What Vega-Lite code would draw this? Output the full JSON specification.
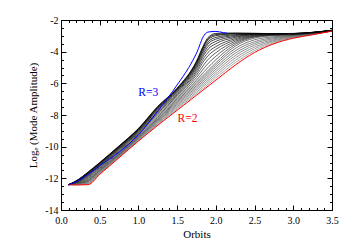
{
  "$schema": "https://vega.github.io/schema/vega-lite/v6.json",
  "width": 271,
  "height": 190,
  "autosize": {"type": "none"},
  "padding": {"left": 61, "top": 20, "right": 18, "bottom": 40},
  "background": "white",
  "config": {
    "view": {"stroke": "black", "strokeWidth": 1},
    "axis": {
      "domain": false, "grid": false, "tickColor": "black", "tickWidth": 1,
      "labelFont": "Liberation Serif", "labelFontSize": 10, "labelColor": "black",
      "titleFont": "Liberation Serif", "titleFontSize": 11, "titleFontWeight": "normal", "titleColor": "black",
      "labelFlush": false, "labelOverlap": false
    }
  },
  "data": {"values": [
    {"R":2,"x":0.1,"y":-12.4},{"R":2,"x":0.2,"y":-12.42},{"R":2,"x":0.35,"y":-12.4},{"R":2,"x":0.5,"y":-11.75},{"R":2,"x":0.75,"y":-10.7},{"R":2,"x":1.0,"y":-9.65},{"R":2,"x":1.25,"y":-8.65},{"R":2,"x":1.5,"y":-7.7},{"R":2,"x":1.75,"y":-6.75},{"R":2,"x":2.0,"y":-5.8},{"R":2,"x":2.25,"y":-4.85},{"R":2,"x":2.5,"y":-4.05},{"R":2,"x":2.75,"y":-3.5},{"R":2,"x":3.0,"y":-3.15},{"R":2,"x":3.25,"y":-2.93},{"R":2,"x":3.5,"y":-2.7},

    {"R":2.06,"x":0.1,"y":-12.4},{"R":2.06,"x":0.2,"y":-12.41},{"R":2.06,"x":0.35,"y":-12.36},{"R":2.06,"x":0.5,"y":-11.71},{"R":2.06,"x":0.75,"y":-10.67},{"R":2.06,"x":1.0,"y":-9.61},{"R":2.06,"x":1.25,"y":-8.6},{"R":2.06,"x":1.5,"y":-7.62},{"R":2.06,"x":1.75,"y":-6.65},{"R":2.06,"x":2.0,"y":-5.66},{"R":2.06,"x":2.25,"y":-4.7},{"R":2.06,"x":2.5,"y":-3.94},{"R":2.06,"x":2.75,"y":-3.44},{"R":2.06,"x":3.0,"y":-3.12},{"R":2.06,"x":3.25,"y":-2.92},{"R":2.06,"x":3.5,"y":-2.7},
    {"R":2.12,"x":0.1,"y":-12.4},{"R":2.12,"x":0.2,"y":-12.39},{"R":2.12,"x":0.35,"y":-12.33},{"R":2.12,"x":0.5,"y":-11.68},{"R":2.12,"x":0.75,"y":-10.64},{"R":2.12,"x":1.0,"y":-9.58},{"R":2.12,"x":1.25,"y":-8.54},{"R":2.12,"x":1.5,"y":-7.54},{"R":2.12,"x":1.75,"y":-6.55},{"R":2.12,"x":2.0,"y":-5.52},{"R":2.12,"x":2.25,"y":-4.55},{"R":2.12,"x":2.5,"y":-3.82},{"R":2.12,"x":2.75,"y":-3.37},{"R":2.12,"x":3.0,"y":-3.1},{"R":2.12,"x":3.25,"y":-2.91},{"R":2.12,"x":3.5,"y":-2.7},
    {"R":2.18,"x":0.1,"y":-12.4},{"R":2.18,"x":0.2,"y":-12.38},{"R":2.18,"x":0.35,"y":-12.29},{"R":2.18,"x":0.5,"y":-11.64},{"R":2.18,"x":0.75,"y":-10.61},{"R":2.18,"x":1.0,"y":-9.54},{"R":2.18,"x":1.25,"y":-8.49},{"R":2.18,"x":1.5,"y":-7.47},{"R":2.18,"x":1.75,"y":-6.44},{"R":2.18,"x":2.0,"y":-5.39},{"R":2.18,"x":2.25,"y":-4.4},{"R":2.18,"x":2.5,"y":-3.71},{"R":2.18,"x":2.75,"y":-3.31},{"R":2.18,"x":3.0,"y":-3.07},{"R":2.18,"x":3.25,"y":-2.89},{"R":2.18,"x":3.5,"y":-2.69},
    {"R":2.24,"x":0.1,"y":-12.4},{"R":2.24,"x":0.2,"y":-12.36},{"R":2.24,"x":0.35,"y":-12.26},{"R":2.24,"x":0.5,"y":-11.61},{"R":2.24,"x":0.75,"y":-10.58},{"R":2.24,"x":1.0,"y":-9.51},{"R":2.24,"x":1.25,"y":-8.43},{"R":2.24,"x":1.5,"y":-7.39},{"R":2.24,"x":1.75,"y":-6.34},{"R":2.24,"x":2.0,"y":-5.25},{"R":2.24,"x":2.25,"y":-4.25},{"R":2.24,"x":2.5,"y":-3.59},{"R":2.24,"x":2.75,"y":-3.25},{"R":2.24,"x":3.0,"y":-3.04},{"R":2.24,"x":3.25,"y":-2.88},{"R":2.24,"x":3.5,"y":-2.69},
    {"R":2.3,"x":0.1,"y":-12.4},{"R":2.3,"x":0.2,"y":-12.35},{"R":2.3,"x":0.35,"y":-12.22},{"R":2.3,"x":0.5,"y":-11.57},{"R":2.3,"x":0.75,"y":-10.55},{"R":2.3,"x":1.0,"y":-9.47},{"R":2.3,"x":1.25,"y":-8.38},{"R":2.3,"x":1.5,"y":-7.31},{"R":2.3,"x":1.75,"y":-6.24},{"R":2.3,"x":2.0,"y":-5.11},{"R":2.3,"x":2.25,"y":-4.1},{"R":2.3,"x":2.5,"y":-3.48},{"R":2.3,"x":2.75,"y":-3.18},{"R":2.3,"x":3.0,"y":-3.02},{"R":2.3,"x":3.25,"y":-2.87},{"R":2.3,"x":3.5,"y":-2.69},
    {"R":2.36,"x":0.1,"y":-12.4},{"R":2.36,"x":0.2,"y":-12.33},{"R":2.36,"x":0.35,"y":-12.18},{"R":2.36,"x":0.5,"y":-11.53},{"R":2.36,"x":0.75,"y":-10.52},{"R":2.36,"x":1.0,"y":-9.43},{"R":2.36,"x":1.25,"y":-8.33},{"R":2.36,"x":1.5,"y":-7.23},{"R":2.36,"x":1.75,"y":-6.14},{"R":2.36,"x":2.0,"y":-4.97},{"R":2.36,"x":2.25,"y":-3.95},{"R":2.36,"x":2.5,"y":-3.37},{"R":2.36,"x":2.75,"y":-3.12},{"R":2.36,"x":3.0,"y":-2.99},{"R":2.36,"x":3.25,"y":-2.86},{"R":2.36,"x":3.5,"y":-2.69},
    {"R":2.42,"x":0.1,"y":-12.4},{"R":2.42,"x":0.2,"y":-12.32},{"R":2.42,"x":0.35,"y":-12.15},{"R":2.42,"x":0.5,"y":-11.5},{"R":2.42,"x":0.75,"y":-10.49},{"R":2.42,"x":1.0,"y":-9.4},{"R":2.42,"x":1.25,"y":-8.27},{"R":2.42,"x":1.5,"y":-7.15},{"R":2.42,"x":1.75,"y":-6.04},{"R":2.42,"x":2.0,"y":-4.83},{"R":2.42,"x":2.25,"y":-3.8},{"R":2.42,"x":2.5,"y":-3.25},{"R":2.42,"x":2.75,"y":-3.06},{"R":2.42,"x":3.0,"y":-2.97},{"R":2.42,"x":3.25,"y":-2.85},{"R":2.42,"x":3.5,"y":-2.68},
    {"R":2.48,"x":0.1,"y":-12.4},{"R":2.48,"x":0.2,"y":-12.31},{"R":2.48,"x":0.35,"y":-12.11},{"R":2.48,"x":0.5,"y":-11.46},{"R":2.48,"x":0.75,"y":-10.46},{"R":2.48,"x":1.0,"y":-9.36},{"R":2.48,"x":1.25,"y":-8.22},{"R":2.48,"x":1.5,"y":-7.08},{"R":2.48,"x":1.75,"y":-5.93},{"R":2.48,"x":2.0,"y":-4.7},{"R":2.48,"x":2.25,"y":-3.65},{"R":2.48,"x":2.5,"y":-3.14},{"R":2.48,"x":2.75,"y":-2.99},{"R":2.48,"x":3.0,"y":-2.94},{"R":2.48,"x":3.25,"y":-2.83},{"R":2.48,"x":3.5,"y":-2.68},

    {"R":2.54,"x":0.1,"y":-12.4},{"R":2.54,"x":0.2,"y":-12.29},{"R":2.54,"x":0.35,"y":-12.06},{"R":2.54,"x":0.5,"y":-11.41},{"R":2.54,"x":0.75,"y":-10.41},{"R":2.54,"x":1.0,"y":-9.31},{"R":2.54,"x":1.25,"y":-8.14},{"R":2.54,"x":1.5,"y":-6.99},{"R":2.54,"x":1.75,"y":-5.8},{"R":2.54,"x":1.85,"y":-5.25},{"R":2.54,"x":1.9,"y":-4.99},{"R":2.54,"x":2.0,"y":-4.51},{"R":2.54,"x":2.25,"y":-3.54},{"R":2.54,"x":2.5,"y":-3.08},{"R":2.54,"x":2.75,"y":-2.96},{"R":2.54,"x":3.0,"y":-2.92},{"R":2.54,"x":3.25,"y":-2.83},{"R":2.54,"x":3.5,"y":-2.68},
    {"R":2.6,"x":0.1,"y":-12.4},{"R":2.6,"x":0.2,"y":-12.27},{"R":2.6,"x":0.35,"y":-12.0},{"R":2.6,"x":0.5,"y":-11.36},{"R":2.6,"x":0.75,"y":-10.35},{"R":2.6,"x":1.0,"y":-9.25},{"R":2.6,"x":1.25,"y":-8.05},{"R":2.6,"x":1.5,"y":-6.9},{"R":2.6,"x":1.75,"y":-5.64},{"R":2.6,"x":1.85,"y":-5.02},{"R":2.6,"x":1.9,"y":-4.74},{"R":2.6,"x":2.0,"y":-4.29},{"R":2.6,"x":2.25,"y":-3.44},{"R":2.6,"x":2.5,"y":-3.05},{"R":2.6,"x":2.75,"y":-2.95},{"R":2.6,"x":3.0,"y":-2.91},{"R":2.6,"x":3.25,"y":-2.82},{"R":2.6,"x":3.5,"y":-2.67},
    {"R":2.66,"x":0.1,"y":-12.4},{"R":2.66,"x":0.2,"y":-12.25},{"R":2.66,"x":0.35,"y":-11.94},{"R":2.66,"x":0.5,"y":-11.31},{"R":2.66,"x":0.75,"y":-10.29},{"R":2.66,"x":1.0,"y":-9.19},{"R":2.66,"x":1.25,"y":-7.96},{"R":2.66,"x":1.5,"y":-6.81},{"R":2.66,"x":1.75,"y":-5.48},{"R":2.66,"x":1.85,"y":-4.79},{"R":2.66,"x":1.9,"y":-4.49},{"R":2.66,"x":2.0,"y":-4.07},{"R":2.66,"x":2.25,"y":-3.35},{"R":2.66,"x":2.5,"y":-3.02},{"R":2.66,"x":2.75,"y":-2.94},{"R":2.66,"x":3.0,"y":-2.9},{"R":2.66,"x":3.25,"y":-2.81},{"R":2.66,"x":3.5,"y":-2.67},
    {"R":2.72,"x":0.1,"y":-12.4},{"R":2.72,"x":0.2,"y":-12.23},{"R":2.72,"x":0.35,"y":-11.88},{"R":2.72,"x":0.5,"y":-11.25},{"R":2.72,"x":0.75,"y":-10.23},{"R":2.72,"x":1.0,"y":-9.13},{"R":2.72,"x":1.25,"y":-7.87},{"R":2.72,"x":1.5,"y":-6.72},{"R":2.72,"x":1.75,"y":-5.33},{"R":2.72,"x":1.85,"y":-4.56},{"R":2.72,"x":1.9,"y":-4.25},{"R":2.72,"x":2.0,"y":-3.86},{"R":2.72,"x":2.25,"y":-3.26},{"R":2.72,"x":2.5,"y":-2.99},{"R":2.72,"x":2.75,"y":-2.92},{"R":2.72,"x":3.0,"y":-2.9},{"R":2.72,"x":3.25,"y":-2.81},{"R":2.72,"x":3.5,"y":-2.67},
    {"R":2.77,"x":0.1,"y":-12.4},{"R":2.77,"x":0.2,"y":-12.22},{"R":2.77,"x":0.35,"y":-11.83},{"R":2.77,"x":0.5,"y":-11.21},{"R":2.77,"x":0.75,"y":-10.18},{"R":2.77,"x":1.0,"y":-9.08},{"R":2.77,"x":1.25,"y":-7.8},{"R":2.77,"x":1.5,"y":-6.65},{"R":2.77,"x":1.75,"y":-5.2},{"R":2.77,"x":1.85,"y":-4.37},{"R":2.77,"x":1.9,"y":-4.04},{"R":2.77,"x":2.0,"y":-3.68},{"R":2.77,"x":2.25,"y":-3.18},{"R":2.77,"x":2.5,"y":-2.96},{"R":2.77,"x":2.75,"y":-2.91},{"R":2.77,"x":3.0,"y":-2.89},{"R":2.77,"x":3.25,"y":-2.8},{"R":2.77,"x":3.5,"y":-2.66},
    {"R":2.82,"x":0.1,"y":-12.4},{"R":2.82,"x":0.2,"y":-12.2},{"R":2.82,"x":0.35,"y":-11.78},{"R":2.82,"x":0.5,"y":-11.16},{"R":2.82,"x":0.75,"y":-10.13},{"R":2.82,"x":1.0,"y":-9.03},{"R":2.82,"x":1.25,"y":-7.72},{"R":2.82,"x":1.5,"y":-6.57},{"R":2.82,"x":1.75,"y":-5.07},{"R":2.82,"x":1.85,"y":-4.18},{"R":2.82,"x":1.9,"y":-3.84},{"R":2.82,"x":2.0,"y":-3.5},{"R":2.82,"x":2.25,"y":-3.1},{"R":2.82,"x":2.5,"y":-2.93},{"R":2.82,"x":2.75,"y":-2.9},{"R":2.82,"x":3.0,"y":-2.88},{"R":2.82,"x":3.25,"y":-2.8},{"R":2.82,"x":3.5,"y":-2.66},
    {"R":2.86,"x":0.1,"y":-12.4},{"R":2.86,"x":0.2,"y":-12.19},{"R":2.86,"x":0.35,"y":-11.74},{"R":2.86,"x":0.5,"y":-11.13},{"R":2.86,"x":0.75,"y":-10.09},{"R":2.86,"x":1.0,"y":-8.99},{"R":2.86,"x":1.25,"y":-7.66},{"R":2.86,"x":1.5,"y":-6.51},{"R":2.86,"x":1.75,"y":-4.96},{"R":2.86,"x":1.85,"y":-4.03},{"R":2.86,"x":1.9,"y":-3.67},{"R":2.86,"x":2.0,"y":-3.35},{"R":2.86,"x":2.25,"y":-3.04},{"R":2.86,"x":2.5,"y":-2.91},{"R":2.86,"x":2.75,"y":-2.89},{"R":2.86,"x":3.0,"y":-2.87},{"R":2.86,"x":3.25,"y":-2.79},{"R":2.86,"x":3.5,"y":-2.66},
    {"R":2.9,"x":0.1,"y":-12.4},{"R":2.9,"x":0.2,"y":-12.18},{"R":2.9,"x":0.35,"y":-11.7},{"R":2.9,"x":0.5,"y":-11.09},{"R":2.9,"x":0.75,"y":-10.05},{"R":2.9,"x":1.0,"y":-8.95},{"R":2.9,"x":1.25,"y":-7.6},{"R":2.9,"x":1.5,"y":-6.45},{"R":2.9,"x":1.75,"y":-4.86},{"R":2.9,"x":1.85,"y":-3.88},{"R":2.9,"x":1.9,"y":-3.51},{"R":2.9,"x":2.0,"y":-3.21},{"R":2.9,"x":2.25,"y":-2.98},{"R":2.9,"x":2.5,"y":-2.89},{"R":2.9,"x":2.75,"y":-2.88},{"R":2.9,"x":3.0,"y":-2.87},{"R":2.9,"x":3.25,"y":-2.79},{"R":2.9,"x":3.5,"y":-2.66},
    {"R":2.93,"x":0.1,"y":-12.4},{"R":2.93,"x":0.2,"y":-12.17},{"R":2.93,"x":0.35,"y":-11.67},{"R":2.93,"x":0.5,"y":-11.06},{"R":2.93,"x":0.75,"y":-10.02},{"R":2.93,"x":1.0,"y":-8.92},{"R":2.93,"x":1.25,"y":-7.56},{"R":2.93,"x":1.5,"y":-6.41},{"R":2.93,"x":1.75,"y":-4.78},{"R":2.93,"x":1.85,"y":-3.77},{"R":2.93,"x":1.9,"y":-3.39},{"R":2.93,"x":2.0,"y":-3.1},{"R":2.93,"x":2.25,"y":-2.93},{"R":2.93,"x":2.5,"y":-2.88},{"R":2.93,"x":2.75,"y":-2.88},{"R":2.93,"x":3.0,"y":-2.86},{"R":2.93,"x":3.25,"y":-2.79},{"R":2.93,"x":3.5,"y":-2.65},
    {"R":2.96,"x":0.1,"y":-12.4},{"R":2.96,"x":0.2,"y":-12.16},{"R":2.96,"x":0.35,"y":-11.64},{"R":2.96,"x":0.5,"y":-11.04},{"R":2.96,"x":0.75,"y":-9.99},{"R":2.96,"x":1.0,"y":-8.89},{"R":2.96,"x":1.25,"y":-7.51},{"R":2.96,"x":1.5,"y":-6.36},{"R":2.96,"x":1.75,"y":-4.7},{"R":2.96,"x":1.85,"y":-3.65},{"R":2.96,"x":1.9,"y":-3.26},{"R":2.96,"x":2.0,"y":-2.99},{"R":2.96,"x":2.25,"y":-2.88},{"R":2.96,"x":2.5,"y":-2.86},{"R":2.96,"x":2.75,"y":-2.87},{"R":2.96,"x":3.0,"y":-2.86},{"R":2.96,"x":3.25,"y":-2.78},{"R":2.96,"x":3.5,"y":-2.65},
    {"R":2.98,"x":0.1,"y":-12.4},{"R":2.98,"x":0.2,"y":-12.16},{"R":2.98,"x":0.35,"y":-11.62},{"R":2.98,"x":0.5,"y":-11.02},{"R":2.98,"x":0.75,"y":-9.97},{"R":2.98,"x":1.0,"y":-8.87},{"R":2.98,"x":1.25,"y":-7.48},{"R":2.98,"x":1.5,"y":-6.33},{"R":2.98,"x":1.75,"y":-4.65},{"R":2.98,"x":1.85,"y":-3.58},{"R":2.98,"x":1.9,"y":-3.18},{"R":2.98,"x":2.0,"y":-2.92},{"R":2.98,"x":2.25,"y":-2.85},{"R":2.98,"x":2.5,"y":-2.85},{"R":2.98,"x":2.75,"y":-2.86},{"R":2.98,"x":3.0,"y":-2.85},{"R":2.98,"x":3.25,"y":-2.78},{"R":2.98,"x":3.5,"y":-2.65},
    {"R":2.99,"x":0.1,"y":-12.4},{"R":2.99,"x":0.2,"y":-12.15},{"R":2.99,"x":0.35,"y":-11.6},{"R":2.99,"x":0.5,"y":-11.0},{"R":2.99,"x":0.75,"y":-9.95},{"R":2.99,"x":1.0,"y":-8.85},{"R":2.99,"x":1.25,"y":-7.45},{"R":2.99,"x":1.5,"y":-6.3},{"R":2.99,"x":1.75,"y":-4.6},{"R":2.99,"x":1.85,"y":-3.5},{"R":2.99,"x":1.9,"y":-3.1},{"R":2.99,"x":2.0,"y":-2.85},{"R":2.99,"x":2.25,"y":-2.82},{"R":2.99,"x":2.5,"y":-2.84},{"R":2.99,"x":2.75,"y":-2.86},{"R":2.99,"x":3.0,"y":-2.85},{"R":2.99,"x":3.25,"y":-2.78},{"R":2.99,"x":3.5,"y":-2.65},

    {"R":3,"x":0.1,"y":-12.4},{"R":3,"x":0.2,"y":-12.2},{"R":3,"x":0.35,"y":-11.75},{"R":3,"x":0.5,"y":-11.2},{"R":3,"x":0.75,"y":-10.35},{"R":3,"x":1.0,"y":-9.25},{"R":3,"x":1.25,"y":-7.75},{"R":3,"x":1.5,"y":-6.1},{"R":3,"x":1.65,"y":-5.0},{"R":3,"x":1.75,"y":-4.1},{"R":3,"x":1.85,"y":-2.95},{"R":3,"x":1.9,"y":-2.76},{"R":3,"x":2.0,"y":-2.72},{"R":3,"x":2.1,"y":-2.8},{"R":3,"x":2.15,"y":-2.84}
  ]},
  "layer": [
    {
      "transform": [{"filter": "datum.R > 2 && datum.R < 3"}],
      "mark": {"type": "line", "strokeWidth": 0.8, "interpolate": "monotone"},
      "encoding": {
        "x": {"field": "x", "type": "quantitative", "scale": {"domain": [0, 3.5], "nice": false, "zero": false},
              "axis": {"orient": "bottom", "values": [0, 0.5, 1, 1.5, 2, 2.5, 3, 3.5], "format": ".1f", "tickSize": -5, "labelPadding": 10, "title": "Orbits", "titlePadding": 3}},
        "y": {"field": "y", "type": "quantitative", "scale": {"domain": [-14, -2], "nice": false, "zero": false},
              "axis": {"orient": "left", "values": [-14, -12, -10, -8, -6, -4, -2], "labelExpr": "'' + datum.value", "tickSize": -5, "labelPadding": 8, "title": "Logₑ (Mode Amplitude)", "titlePadding": 6}},
        "detail": {"field": "R", "type": "nominal"},
        "color": {"field": "R", "type": "quantitative", "scale": {"domain": [2, 3], "range": ["#9a9a9a", "#000000"]}, "legend": null},
        "order": {"field": "x", "type": "quantitative"}
      }
    },
    {
      "transform": [{"filter": "datum.R == 2"}],
      "mark": {"type": "line", "strokeWidth": 1, "color": "#ff0000", "interpolate": "monotone"},
      "encoding": {
        "x": {"field": "x", "type": "quantitative", "scale": {"domain": [0, 3.5], "nice": false, "zero": false},
              "axis": {"orient": "bottom", "values": [0,0.1,0.2,0.3,0.4,0.5,0.6,0.7,0.8,0.9,1,1.1,1.2,1.3,1.4,1.5,1.6,1.7,1.8,1.9,2,2.1,2.2,2.3,2.4,2.5,2.6,2.7,2.8,2.9,3,3.1,3.2,3.3,3.4,3.5], "tickSize": -2.5, "labels": false, "title": null}},
        "y": {"field": "y", "type": "quantitative", "scale": {"domain": [-14, -2], "nice": false, "zero": false},
              "axis": {"orient": "left", "values": [-14,-13.5,-13,-12.5,-12,-11.5,-11,-10.5,-10,-9.5,-9,-8.5,-8,-7.5,-7,-6.5,-6,-5.5,-5,-4.5,-4,-3.5,-3,-2.5,-2], "tickSize": -2.5, "labels": false, "title": null}},
        "order": {"field": "x", "type": "quantitative"}
      }
    },
    {
      "transform": [{"filter": "datum.R == 3"}],
      "mark": {"type": "line", "strokeWidth": 1, "color": "#0000ff", "interpolate": "monotone"},
      "encoding": {
        "x": {"field": "x", "type": "quantitative", "scale": {"domain": [0, 3.5], "nice": false, "zero": false},
              "axis": {"orient": "top", "values": [0, 0.5, 1, 1.5, 2, 2.5, 3, 3.5], "tickSize": -5, "labels": false, "title": null}},
        "y": {"field": "y", "type": "quantitative", "scale": {"domain": [-14, -2], "nice": false, "zero": false},
              "axis": {"orient": "right", "values": [-14, -12, -10, -8, -6, -4, -2], "tickSize": -5, "labels": false, "title": null}},
        "order": {"field": "x", "type": "quantitative"}
      }
    },
    {
      "data": {"values": [{"x": 1.127, "y": -6.58, "label": "R=3"}]},
      "mark": {"type": "text", "color": "#0000ff", "font": "Liberation Serif", "fontSize": 11.5, "align": "center", "baseline": "middle"},
      "encoding": {
        "x": {"field": "x", "type": "quantitative", "scale": {"domain": [0, 3.5], "nice": false, "zero": false},
              "axis": {"orient": "top", "values": [0,0.1,0.2,0.3,0.4,0.5,0.6,0.7,0.8,0.9,1,1.1,1.2,1.3,1.4,1.5,1.6,1.7,1.8,1.9,2,2.1,2.2,2.3,2.4,2.5,2.6,2.7,2.8,2.9,3,3.1,3.2,3.3,3.4,3.5], "tickSize": -2.5, "labels": false, "title": null}},
        "y": {"field": "y", "type": "quantitative", "scale": {"domain": [-14, -2], "nice": false, "zero": false},
              "axis": {"orient": "right", "values": [-14,-13.5,-13,-12.5,-12,-11.5,-11,-10.5,-10,-9.5,-9,-8.5,-8,-7.5,-7,-6.5,-6,-5.5,-5,-4.5,-4,-3.5,-3,-2.5,-2], "tickSize": -2.5, "labels": false, "title": null}},
        "text": {"field": "label"}
      }
    },
    {
      "data": {"values": [{"x": 1.634, "y": -8.28, "label": "R=2"}]},
      "mark": {"type": "text", "color": "#ff0000", "font": "Liberation Serif", "fontSize": 11.5, "align": "center", "baseline": "middle"},
      "encoding": {
        "x": {"field": "x", "type": "quantitative", "scale": {"domain": [0, 3.5], "nice": false, "zero": false}, "axis": null},
        "y": {"field": "y", "type": "quantitative", "scale": {"domain": [-14, -2], "nice": false, "zero": false}, "axis": null},
        "text": {"field": "label"}
      }
    }
  ],
  "resolve": {"axis": {"x": "independent", "y": "independent"}}
}
